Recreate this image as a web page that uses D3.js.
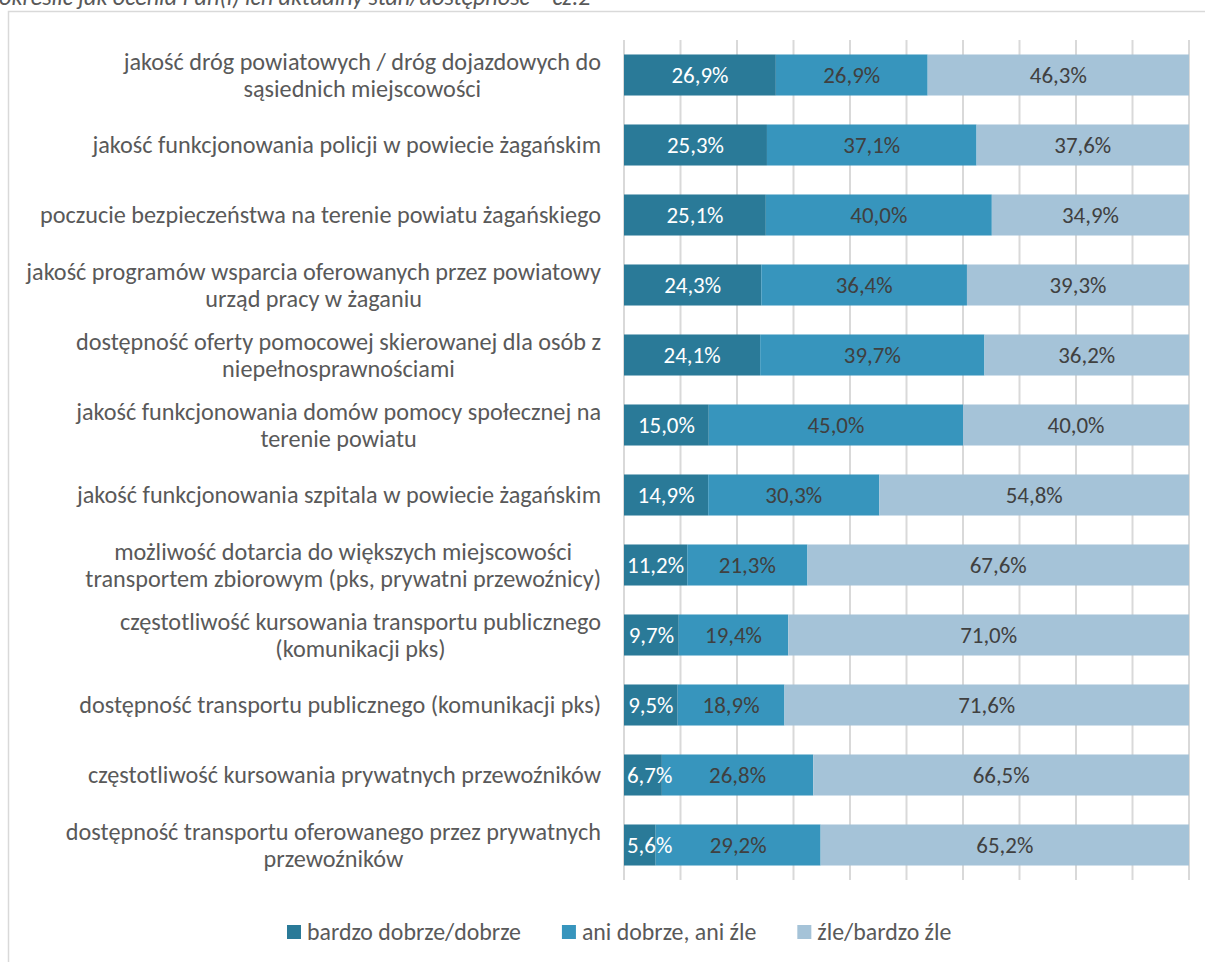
<!DOCTYPE html>
<html>
<head>
<meta charset="utf-8">
<script src="https://cdn.jsdelivr.net/npm/d3@7/dist/d3.min.js"></script>
<style>
  html, body { margin: 0; padding: 0; background: #fff; overflow: hidden; }
  svg { display: block; font-family: Carlito, Calibri, Lato, "Noto Sans", sans-serif; }
</style>
</head>
<body>
<svg id="chart" width="1205" height="962"></svg>
<script>
const title = "określić jak ocenia Pan(i) ich aktualny stan/dostępność – cz.2";

const categories = [
  ["jakość dróg powiatowych / dróg dojazdowych do", "sąsiednich miejscowości"],
  ["jakość funkcjonowania policji w powiecie żagańskim"],
  ["poczucie bezpieczeństwa na terenie powiatu żagańskiego"],
  ["jakość programów wsparcia oferowanych przez powiatowy", "urząd pracy w żaganiu"],
  ["dostępność oferty pomocowej skierowanej dla osób z", "niepełnosprawnościami"],
  ["jakość funkcjonowania domów pomocy społecznej na", "terenie powiatu"],
  ["jakość funkcjonowania szpitala w powiecie żagańskim"],
  ["możliwość dotarcia do większych miejscowości", "transportem zbiorowym (pks, prywatni przewoźnicy)"],
  ["częstotliwość kursowania transportu publicznego", "(komunikacji pks)"],
  ["dostępność transportu publicznego (komunikacji pks)"],
  ["częstotliwość kursowania prywatnych przewoźników"],
  ["dostępność transportu oferowanego przez prywatnych", "przewoźników"]
];

const seriesNames = ["bardzo dobrze/dobrze", "ani dobrze, ani źle", "źle/bardzo źle"];
const good    = [26.9, 25.3, 25.1, 24.3, 24.1, 15.0, 14.9, 11.2, 9.7, 9.5, 6.7, 5.6];
const neutral = [26.9, 37.1, 40.0, 36.4, 39.7, 45.0, 30.3, 21.3, 19.4, 18.9, 26.8, 29.2];
const bad     = [46.3, 37.6, 34.9, 39.3, 36.2, 40.0, 54.8, 67.6, 71.0, 71.6, 66.5, 65.2];
const xTicks  = [0, 10, 20, 30, 40, 50, 60, 70, 80, 90, 100];

const colors = ["#2a7a98", "#3795bd", "#a5c3d8"];
const labelColors = ["#ffffff", "#404040", "#404040"];

const svg = d3.select("#chart");

// measure helper: font size so that a string has a given width
function fitSize(str, target, opts) {
  const t = svg.append("text").attr("font-size", 20).text(str);
  if (opts && opts.italic) t.attr("font-style", "italic");
  const w = t.node().getComputedTextLength();
  t.remove();
  return 20 * target / w;
}
const labelSize = fitSize("jakość funkcjonowania policji w powiecie żagańskim", 509);
const valueSize = fitSize("26,9%", 57);
const legendSize = fitSize("bardzo dobrze/dobrze", 214);
const titleSize = fitSize(title, 592, { italic: true });

// frame
svg.append("rect")
  .attr("x", 8.5).attr("y", 11.5)
  .attr("width", 1300).attr("height", 1100)
  .attr("fill", "none").attr("stroke", "#d9d9d9").attr("stroke-width", 1.5);

// partially cut title
svg.append("text")
  .attr("x", -1).attr("y", 5)
  .attr("font-style", "italic")
  .attr("font-size", titleSize)
  .attr("fill", "#595959")
  .text(title);

const x = d3.scaleLinear().domain([0, 100]).range([624, 1189]);
const y = d3.scaleBand().domain(d3.range(categories.length))
  .range([40, 880]).paddingInner(0.414).paddingOuter(0.207);

// gridlines
svg.append("g").selectAll("line").data(xTicks).join("line")
  .attr("x1", d => x(d)).attr("x2", d => x(d))
  .attr("y1", 40).attr("y2", 880)
  .attr("stroke", "#d9d9d9").attr("stroke-width", 2);

// stacked normalized data
const rows = categories.map((c, i) => {
  const vals = [good[i], neutral[i], bad[i]];
  const sum = d3.sum(vals);
  let acc = 0;
  return vals.map((v, k) => {
    const s = acc / sum * 100;
    acc += v;
    const e = acc / sum * 100;
    return { i, k, v, s, e };
  });
});

const segs = rows.flat();
svg.append("g").selectAll("rect").data(segs).join("rect")
  .attr("x", d => x(d.s))
  .attr("width", d => x(d.e) - x(d.s))
  .attr("y", d => y(d.i))
  .attr("height", y.bandwidth())
  .attr("fill", d => colors[d.k]);

const fmt = v => v.toFixed(1).replace(".", ",") + "%";
svg.append("g").selectAll("text").data(segs).join("text")
  .attr("y", d => y(d.i) + y.bandwidth() / 2)
  .attr("dy", "0.35em")
  .attr("text-anchor", "middle")
  .attr("font-size", valueSize)
  .attr("fill", d => labelColors[d.k])
  .text(d => fmt(d.v))
  .each(function(d) {
    const w = this.getComputedTextLength();
    const cx = Math.max((x(d.s) + x(d.e)) / 2, x(0) + 3 + w / 2);
    d3.select(this).attr("x", cx);
  });

// category labels
const labG = svg.append("g");
const lineH = 27.5;
categories.forEach((lines, i) => {
  const g = labG.append("g");
  const cy = y(i) + y.bandwidth() / 2;
  const texts = lines.map((ln, j) => g.append("text")
    .attr("y", cy + (j - (lines.length - 1) / 2) * lineH)
    .attr("dy", "0.35em")
    .attr("text-anchor", "middle")
    .attr("font-size", labelSize)
    .attr("fill", "#595959")
    .text(ln));
  const maxW = d3.max(texts, tt => tt.node().getComputedTextLength());
  texts.forEach(tt => tt.attr("x", 601 - maxW / 2));
});

// legend
const leg = svg.append("g");
let lx = 287;
const ly = 932;
seriesNames.forEach((name, k) => {
  leg.append("rect").attr("x", lx).attr("y", ly - 7).attr("width", 14).attr("height", 14)
    .attr("fill", colors[k]);
  const tx = leg.append("text").attr("x", lx + 20).attr("y", ly).attr("dy", "0.35em")
    .attr("font-size", legendSize).attr("fill", "#595959").text(name);
  lx += 20 + tx.node().getComputedTextLength() + 41;
});
</script>
</body>
</html>
